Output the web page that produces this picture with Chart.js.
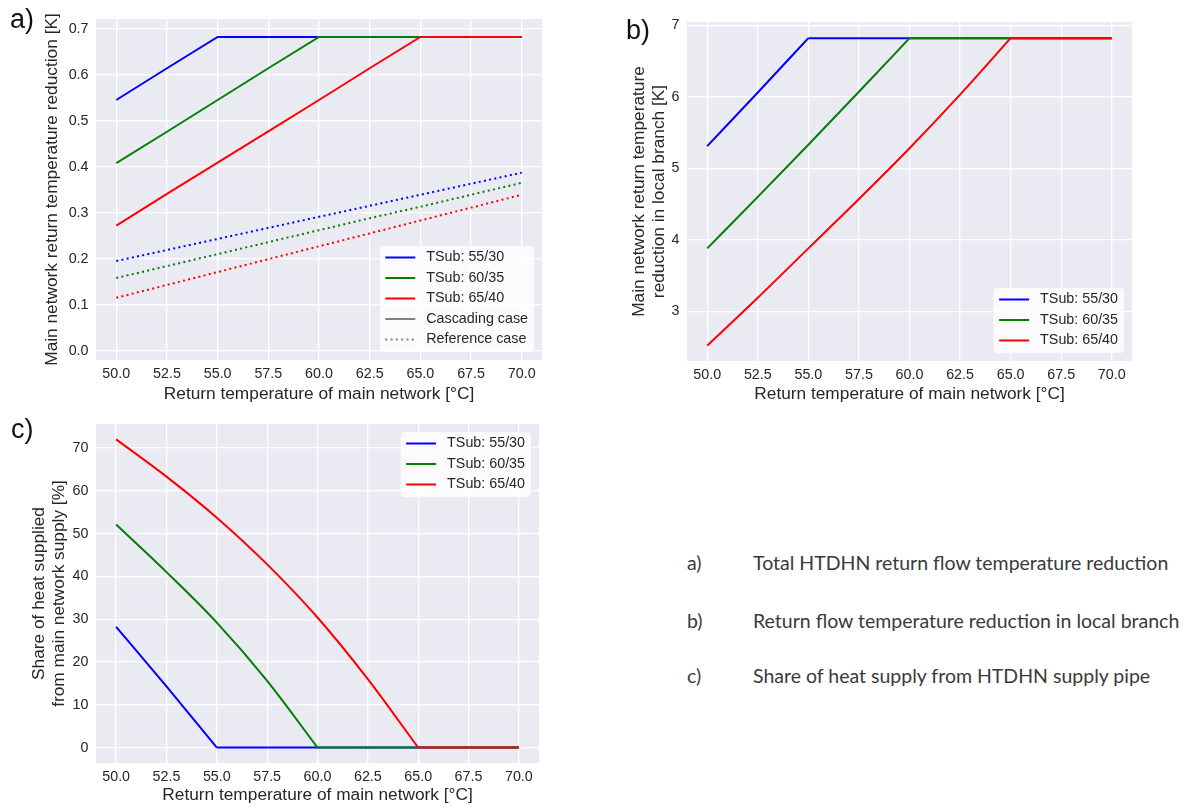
<!DOCTYPE html>
<html>
<head>
<meta charset="utf-8">
<script src="https://cdn.jsdelivr.net/npm/chart.js@4.4.1/dist/chart.umd.min.js"></script>
<style>
  body { margin: 0; width: 1192px; height: 809px; position: relative; overflow: hidden; background: #fff; }
  canvas { position: absolute; }
  .panel { position: absolute; font-family: "Liberation Sans", Arial, sans-serif; font-size: 27px; line-height: 27px; color: #111; }
  .note { position: absolute; font-family: Lato, "Open Sans", sans-serif; font-size: 19.5px; line-height: 19.5px; color: #3a3a3a; white-space: nowrap; }
</style>
</head>
<body>
<canvas id="chartA" width="580" height="405" style="left:0;top:0"></canvas>
<canvas id="chartB" width="602" height="405" style="left:590px;top:0"></canvas>
<canvas id="chartC" width="580" height="404" style="left:0;top:405px"></canvas>

<div class="panel" style="left:10px;top:6px">a)</div>
<div class="panel" style="left:626px;top:17px">b)</div>
<div class="panel" style="left:11px;top:416px">c)</div>

<div class="note" style="left:687px;top:553px">a)</div>
<div class="note" style="left:753px;top:553px">Total HTDHN return flow temperature reduction</div>
<div class="note" style="left:687px;top:611px">b)</div>
<div class="note" style="left:753px;top:611px">Return flow temperature reduction in local branch</div>
<div class="note" style="left:687px;top:666px">c)</div>
<div class="note" style="left:753px;top:666px">Share of heat supply from HTDHN supply pipe</div>

<script>
// return temperature of the main network [°C]
const temps = [50.0, 52.5, 55.0, 57.5, 60.0, 62.5, 65.0, 67.5, 70.0];
const xTickLabels = ['50.0', '52.5', '55.0', '57.5', '60.0', '62.5', '65.0', '67.5', '70.0'];

const seriesNames = ['TSub: 55/30', 'TSub: 60/35', 'TSub: 65/40'];
const seriesColors = ['#0000ff', '#008000', '#ff0000'];

// a) main network return temperature reduction [K]
const cascade55 = [0.545, 0.614, 0.682, 0.682, 0.682, 0.682, 0.682, 0.682, 0.682];
const cascade60 = [0.408, 0.476, 0.545, 0.614, 0.682, 0.682, 0.682, 0.682, 0.682];
const cascade65 = [0.272, 0.341, 0.409, 0.477, 0.545, 0.614, 0.682, 0.682, 0.682];
const reference55 = [0.195, 0.219, 0.243, 0.267, 0.291, 0.315, 0.339, 0.363, 0.387];
const reference60 = [0.158, 0.184, 0.210, 0.236, 0.262, 0.288, 0.313, 0.339, 0.365];
const reference65 = [0.115, 0.143, 0.171, 0.199, 0.227, 0.255, 0.283, 0.311, 0.339];
const aTicks = [0.0, 0.1, 0.2, 0.3, 0.4, 0.5, 0.6, 0.7];
const aTickLabels = ['0.0', '0.1', '0.2', '0.3', '0.4', '0.5', '0.6', '0.7'];

// b) reduction in the local branch [K]
const branch55 = [5.31, 6.06, 6.82, 6.82, 6.82, 6.82, 6.82, 6.82, 6.82];
const branch60 = [3.88, 4.60, 5.33, 6.07, 6.82, 6.82, 6.82, 6.82, 6.82];
const branch65 = [2.52, 3.19, 3.88, 4.57, 5.28, 6.03, 6.82, 6.82, 6.82];
const bTicks = [3, 4, 5, 6, 7];
const bTickLabels = ['3', '4', '5', '6', '7'];

// c) share of heat taken from the main network supply [%]
const share55 = [28.2, 14.3, 0, 0, 0, 0, 0, 0, 0];
const share60 = [52.1, 41.0, 29.2, 15.6, 0, 0, 0, 0, 0];
const share65 = [72.0, 63.3, 53.7, 42.8, 30.4, 16.0, 0, 0, 0];
const cTicks = [0, 10, 20, 30, 40, 50, 60, 70];
const cTickLabels = ['0', '10', '20', '30', '40', '50', '60', '70'];

const xTitle = 'Return temperature of main network [°C]';
const fontFamily = '"Liberation Sans", Arial, sans-serif';
const textColor = '#262626';

function lineSet(label, points, color, order, opts) {
    opts = opts || {};
    return {
        label: label,
        data: points,
        borderColor: color,
        borderWidth: 2,
        borderDash: opts.dotted ? [2, 3.3] : [],
        pointRadius: 0,
        fill: false,
        cubicInterpolationMode: opts.smooth ? 'monotone' : 'default',
        tension: 0,
        order: order
    };
}

function toPoints(values, from, to) {
    const pts = [];
    for (let i = from; i <= to; i++) pts.push({x: temps[i], y: values[i]});
    return pts;
}

// straight series: one dataset over the whole range
function straightSeries(label, values, color, order, dotted) {
    return [lineSet(label, toPoints(values, 0, values.length - 1), color, order, {dotted: dotted})];
}

// curved part up to the plateau (smoothed) plus the flat plateau
function kinkedSeries(label, values, color, order) {
    const last = values[values.length - 1];
    const k = values.indexOf(last);
    return [
        lineSet(label, toPoints(values, 0, k), color, order, {smooth: true}),
        lineSet(label, toPoints(values, k, values.length - 1), color, order)
    ];
}

// grey plot background like seaborn darkgrid
const plotBackground = {
    id: 'plotBackground',
    beforeDraw(chart) {
        const {ctx, chartArea: a} = chart;
        ctx.save();
        ctx.fillStyle = '#eaeaf2';
        ctx.fillRect(a.left, a.top, a.right - a.left, a.bottom - a.top);
        ctx.restore();
    }
};

// framed legend inside the plot area
function boxLegend(items, corner) {
    return {
        id: 'boxLegend',
        afterDraw(chart) {
            const {ctx, chartArea} = chart;
            ctx.save();
            ctx.font = '14.3px ' + fontFamily;
            const textW = Math.max(...items.map(it => ctx.measureText(it.text).width));
            const w = 46.5 + textW + 6;
            const h = 11.5 + (items.length - 1) * 20.5 + 12.5;
            const x = chartArea.right - 8 - w;
            const y = corner === 'top' ? chartArea.top + 8 : chartArea.bottom - 8 - h;
            ctx.fillStyle = 'rgba(255,255,255,0.8)';
            ctx.beginPath();
            ctx.roundRect(x, y, w, h, 4);
            ctx.fill();
            items.forEach((it, i) => {
                const cy = y + 11.5 + i * 20.5;
                ctx.strokeStyle = it.color;
                ctx.lineWidth = 2;
                ctx.setLineDash(it.dash || []);
                ctx.beginPath();
                ctx.moveTo(x + 5.5, cy);
                ctx.lineTo(x + 35.5, cy);
                ctx.stroke();
                ctx.fillStyle = textColor;
                ctx.textBaseline = 'middle';
                ctx.fillText(it.text, x + 46.5, cy);
            });
            ctx.restore();
        }
    };
}

function makeOptions(cfg) {
    return {
        responsive: false,
        animation: false,
        events: [],
        layout: {padding: cfg.padding},
        plugins: {legend: {display: false}, tooltip: {enabled: false}},
        scales: {
            x: {
                type: 'linear',
                min: 49,
                max: 71,
                afterBuildTicks: s => { s.ticks = temps.map(v => ({value: v})); },
                afterFit: s => { s.height = cfg.xHeight; },
                ticks: {
                    autoSkip: false, maxRotation: 0, minRotation: 0, padding: 5.8,
                    color: textColor, font: {family: fontFamily, size: 14.3},
                    callback: (v, i) => xTickLabels[i]
                },
                grid: {color: '#ffffff', lineWidth: 1.3, drawTicks: false},
                border: {display: false},
                title: {
                    display: true, text: xTitle, color: textColor,
                    font: {family: fontFamily, size: 17.3},
                    padding: {top: 0, bottom: cfg.xTitlePad}
                }
            },
            y: {
                type: 'linear',
                min: cfg.yMin,
                max: cfg.yMax,
                afterBuildTicks: s => { s.ticks = cfg.yTicks.map(v => ({value: v})); },
                afterFit: s => { s.width = cfg.yWidth; },
                ticks: {
                    autoSkip: false, padding: 7.5,
                    color: textColor, font: {family: fontFamily, size: 14.3},
                    callback: (v, i) => cfg.yTickLabels[i]
                },
                grid: {color: '#ffffff', lineWidth: 1.3, drawTicks: false},
                border: {display: false},
                title: {
                    display: true, text: cfg.yTitle, color: textColor,
                    font: {family: fontFamily, size: 17.3},
                    padding: {top: cfg.yTitlePad, bottom: 0}
                }
            }
        }
    };
}

const seriesLegend = seriesNames.map((n, i) => ({text: n, color: seriesColors[i]}));

new Chart(document.getElementById('chartA'), {
    type: 'line',
    data: {
        datasets: [].concat(
            straightSeries(seriesNames[0], cascade55, seriesColors[0], 2, false),
            straightSeries(seriesNames[1], cascade60, seriesColors[1], 1, false),
            straightSeries(seriesNames[2], cascade65, seriesColors[2], 0, false),
            straightSeries(seriesNames[0], reference55, seriesColors[0], 5, true),
            straightSeries(seriesNames[1], reference60, seriesColors[1], 4, true),
            straightSeries(seriesNames[2], reference65, seriesColors[2], 3, true)
        )
    },
    options: makeOptions({
        padding: {left: 0, top: 19, right: 38, bottom: 0},
        yWidth: 96, xHeight: 45, xTitlePad: 0.5,
        yMin: -0.0202, yMax: 0.7211, yTicks: aTicks, yTickLabels: aTickLabels,
        yTitle: 'Main network return temperature reduction [K]', yTitlePad: 42
    }),
    plugins: [plotBackground, boxLegend(seriesLegend.concat([
        {text: 'Cascading case', color: '#808080'},
        {text: 'Reference case', color: '#808080', dash: [2, 3.3]}
    ]), 'bottom')]
});

new Chart(document.getElementById('chartB'), {
    type: 'line',
    data: {
        datasets: [].concat(
            kinkedSeries(seriesNames[0], branch55, seriesColors[0], 2),
            kinkedSeries(seriesNames[1], branch60, seriesColors[1], 1),
            kinkedSeries(seriesNames[2], branch65, seriesColors[2], 0)
        )
    },
    options: makeOptions({
        padding: {left: 0, top: 22, right: 60, bottom: 0},
        yWidth: 97, xHeight: 44, xTitlePad: 0.5,
        yMin: 2.305, yMax: 7.046, yTicks: bTicks, yTickLabels: bTickLabels,
        yTitle: ['Main network return temperature', 'reduction in local branch [K]'], yTitlePad: 38.6
    }),
    plugins: [plotBackground, boxLegend(seriesLegend, 'bottom')]
});

new Chart(document.getElementById('chartC'), {
    type: 'line',
    data: {
        datasets: [].concat(
            kinkedSeries(seriesNames[0], share55, seriesColors[0], 2),
            kinkedSeries(seriesNames[1], share60, seriesColors[1], 1),
            kinkedSeries(seriesNames[2], share65, seriesColors[2], 0)
        )
    },
    options: makeOptions({
        padding: {left: 0, top: 19, right: 41, bottom: 0},
        yWidth: 96, xHeight: 46, xTitlePad: 3.5,
        yMin: -3.6, yMax: 75.6, yTicks: cTicks, yTickLabels: cTickLabels,
        yTitle: ['Share of heat supplied', 'from main network supply [%]'], yTitlePad: 28.6
    }),
    plugins: [plotBackground, boxLegend(seriesLegend, 'top')]
});
</script>
</body>
</html>
